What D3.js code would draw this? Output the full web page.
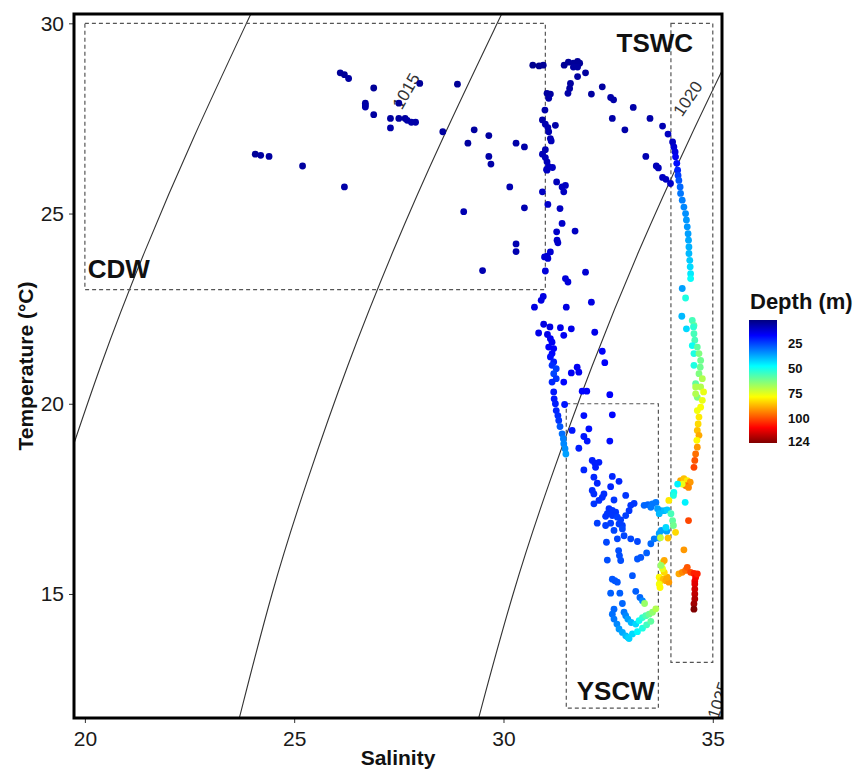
<!DOCTYPE html>
<html>
<head>
<meta charset="utf-8">
<title>T-S diagram</title>
<script src="https://d3js.org/d3.v7.min.js"></script>
<style>
  * { margin: 0; padding: 0; }
  body { background: #fff; }
  svg { display: block; font-family: "Liberation Sans", Arial, sans-serif; }
</style>
</head>
<body>
<div id="chart"></div>
<script>
// --- data: [salinity, temperature (degC), depth (m)] ---
const cdwScatter = [
  [26.1,28.7,3],[26.2,28.65,3],[26.3,28.55,4],[26.9,28.3,3],[26.7,27.9,4],[26.7,27.85,5],[26.7,27.8,5],
  [26.9,27.6,4],[27.3,27.5,4],[27.3,27.25,5],[27.5,27.9,3],[27.5,27.5,4],[27.65,27.5,4],[27.7,27.45,5],
  [27.8,27.4,5],[27.9,27.4,5],[24.07,26.56,3],[24.2,26.53,4],[24.4,26.5,4],[25.2,26.25,4],[26.2,25.7,5],
  [28.0,28.42,3],[28.9,28.4,3],[28.55,27.15,4],[29.3,27.2,4],[29.15,26.85,4],[29.65,27.05,4],[29.65,26.5,5],
  [29.7,26.3,5],[30.3,26.85,5],[30.5,26.75,5],[30.15,25.7,6],[29.05,25.05,6],[30.5,25.15,6],[30.3,24.2,6],
  [30.3,24.0,6],[29.5,23.5,6]
];
const frontColumn = [
  [30.7,28.9,2],[30.85,28.88,2],[30.95,28.9,3],[31.04,28.16,4],[31.12,28.14,4],[31.08,28.03,5],[30.99,27.72,5],
  [30.93,27.46,5],[31.0,27.35,6],[31.06,27.26,6],[31.24,27.32,5],[31.08,27.15,6],[31.12,26.97,6],[31.14,26.91,7],
  [31.0,26.68,6],[30.93,26.56,7],[31.0,26.47,7],[31.04,26.36,7],[31.08,26.23,8],[31.03,26.16,8],[31.17,26.21,8],
  [31.04,26.14,8],[31.27,25.83,7],[31.4,25.7,8],[31.48,25.74,8],[31.44,25.57,8],[30.93,25.57,8],[31.06,25.24,9],
  [31.35,25.13,8],[31.4,24.74,9],[31.27,24.52,9],[31.28,24.3,9],[31.3,24.23,9],[31.71,24.54,8],[31.12,23.99,10],
  [31.04,23.88,10],[30.98,23.86,10],[31.06,23.82,10],[31.0,23.49,11],[31.96,23.46,10],[31.48,23.29,11],
  [31.54,23.2,11],[30.95,22.82,12],[30.9,22.72,12],[30.74,22.54,12],[31.5,22.54,12],[32.1,22.67,12]
];
const midColumn = [
  [30.96,22.09,12],[31.11,22.02,12],[31.36,22.0,13],[31.62,21.97,13],[30.84,21.86,13],[31.05,21.82,13],
  [31.44,21.8,14],[32.18,21.88,13],[31.12,21.71,14],[31.16,21.62,14],[31.08,21.49,15],[31.2,21.45,15],
  [31.16,21.32,16],[31.12,21.23,17],[31.2,21.1,19],[31.16,21.01,21],[31.26,20.92,23],[31.2,20.79,24],
  [31.26,20.66,22],[31.16,20.57,20],[31.2,20.31,18],[31.21,20.13,18],[31.24,20.0,19],[31.26,19.82,20],
  [31.3,19.69,21],[31.32,19.56,22],[31.35,19.4,26],[31.4,19.21,29],[31.43,19.08,31],[31.44,18.95,32],
  [31.47,18.82,33],[31.49,18.68,35]
];
const yscwScatter = [
  [32.36,21.38,15],[32.42,21.08,15],[31.76,20.96,14],[31.8,20.83,14],[31.62,20.81,14],[31.44,20.57,16],
  [31.88,20.33,16],[31.99,20.33,16],[32.54,20.24,15],[31.46,19.98,18],[32.6,19.71,16],[31.92,19.69,17],
  [32.04,19.34,17],[31.64,19.3,18],[31.92,19.14,18],[32.0,19.02,18],[32.54,19.02,17],[31.8,18.83,19],
  [32.12,18.51,19],[32.18,18.44,19],[32.28,18.46,19],[32.2,18.33,19],[31.92,18.26,20],[32.16,18.07,20],
  [32.6,18.09,20],[32.76,17.96,20],[32.24,17.91,20],[32.56,17.82,20],[32.12,17.72,21],[32.16,17.63,21],
  [32.4,17.63,21],[32.36,17.54,21],[32.92,17.59,22],[32.28,17.46,21],[32.16,17.37,22],[32.64,17.47,22],
  [32.52,17.24,21],[32.6,17.2,22],[32.68,17.15,22],[32.48,17.11,22],[32.44,17.04,22],[32.6,17.06,22],
  [32.72,17.02,23],[32.8,16.95,23],[32.56,16.86,23],[32.76,16.84,23],[32.84,16.8,23],[33.04,17.33,22],
  [33.12,17.38,22],[33.0,17.19,22],[32.92,17.06,23],[32.24,16.86,23],[32.44,16.8,23],[32.64,16.67,24],
  [32.84,16.71,24],[32.88,16.53,24],[32.72,16.45,24],[33.04,16.45,24],[33.2,16.38,24],[32.46,16.36,24],
  [33.52,16.32,28],[32.75,16.14,25],[32.77,16.01,25],[32.8,15.88,25],[32.48,15.89,25],[33.2,15.92,26],
  [33.28,15.96,26],[33.42,16.08,27],[33.08,15.48,26],[32.6,15.39,26],[32.66,15.35,26],[32.72,15.31,26],
  [32.56,15.02,27],[32.78,15.02,27],[33.16,15.07,27],[33.26,14.91,28],[33.32,14.82,32],[32.84,14.75,28]
];
const yscwIntrusion = [
  [33.36,17.33,28],[33.45,17.35,28],[33.56,17.37,30],[33.64,17.41,30],[33.52,17.28,30],[33.68,17.24,35],
  [33.76,17.19,35],[33.72,17.11,38],[33.84,17.19,38],[33.91,17.21,40],[33.6,16.45,30],[33.72,16.47,32],
  [33.72,16.59,35],[33.77,16.67,35],[33.9,16.65,35],[33.88,16.75,42],[33.75,16.48,70]
];
const yscwLoop = [
  [32.64,14.6,28],[32.6,14.47,29],[32.64,14.34,30],[32.71,14.21,32],[32.76,14.08,34],[32.84,13.99,36],
  [32.92,13.9,38],[32.97,13.86,40],[33.0,13.83,41],[32.88,14.52,30],[32.92,14.43,32],[32.97,14.34,35],
  [33.05,14.25,38],[33.16,14.21,42],[33.24,14.3,48],[33.32,14.38,52],[33.4,14.43,56],[33.48,14.47,60],
  [33.56,14.52,64],[33.64,14.61,68],[33.08,13.95,42],[33.2,14.01,46],[33.32,14.1,50],[33.42,14.19,54],
  [33.52,14.28,58],[33.37,14.75,65]
];
const tswcUpper = [
  [31.45,28.9,3],[31.55,28.98,3],[31.67,28.95,3],[31.77,29.0,3],[31.82,28.95,3],[31.67,28.85,4],[31.77,28.85,4],
  [31.77,28.6,4],[31.96,28.7,4],[31.6,28.42,4],[31.58,28.29,4],[31.54,28.16,5],[32.1,28.14,4],[32.36,28.33,4],
  [32.56,28.05,5],[32.63,27.99,5],[33.1,27.79,5],[32.6,27.5,5],[33.5,27.5,5],[32.9,27.2,5],[33.8,27.3,6],
  [33.93,27.09,8],[33.4,26.5,6],[33.65,26.25,7],[33.7,26.2,7],[33.8,25.95,8],[33.88,25.9,8],[33.99,25.79,9],
  [34.04,26.88,8],[34.07,26.75,10],[34.1,26.62,12],[34.11,26.49,14],[34.14,26.32,17],[34.16,26.14,20],
  [34.17,26.0,23],[34.19,25.87,26],[34.22,25.7,28],[34.23,25.53,30],[34.27,25.35,31],[34.31,25.17,32],
  [34.35,25.0,33],[34.37,24.83,34],[34.39,24.65,34],[34.41,24.47,35],[34.42,24.3,36],[34.43,24.12,37],
  [34.43,23.95,38],[34.45,23.77,40],[34.46,23.6,42],[34.47,23.42,44],[34.47,23.29,47]
];
const tswcMid = [
  [34.27,23.03,35],[34.35,22.78,50],[34.26,22.3,38],[34.37,21.97,42],[34.51,22.19,55],[34.55,22.06,58],
  [34.54,22.02,52],[34.55,21.84,55],[34.57,21.67,55],[34.51,21.53,48],[34.63,21.49,58],[34.55,21.32,50],
  [34.67,21.32,62],[34.71,21.14,60],[34.55,21.01,50],[34.7,20.96,60],[34.67,20.79,62],[34.75,20.66,68],
  [34.59,20.53,58],[34.71,20.44,68],[34.78,20.31,75],[34.63,20.17,62],[34.75,20.09,75],[34.71,19.91,77],
  [34.63,19.82,76],[34.67,19.65,80],[34.65,19.47,82],[34.63,19.3,85],[34.67,19.17,88],[34.62,19.04,78],
  [34.63,18.86,90],[34.59,18.68,95],[34.57,18.51,98],[34.55,18.33,100],[34.59,20.44,68],[34.59,20.26,68]
];
const tswcDeep = [
  [34.23,17.98,88],[34.31,18.03,85],[34.39,17.98,80],[34.46,17.94,90],[34.35,17.85,95],[34.42,17.8,92],
  [34.27,17.89,75],[34.16,17.89,45],[34.07,17.67,48],[34.06,17.59,50],[33.95,17.46,80],[34.0,17.11,55],
  [34.04,16.93,58],[34.06,16.8,60],[33.93,16.47,85],[34.11,16.62,82],[34.34,17.41,45],[34.42,16.93,100],
  [34.31,16.16,90],[33.72,15.44,78],[33.76,15.35,80],[33.82,15.39,85],[33.88,15.35,88],[33.95,15.31,90],
  [33.91,15.44,88],[33.84,15.57,82],[33.8,15.66,75],[33.72,15.26,76],[33.74,15.17,78],[33.8,15.83,70],
  [33.84,15.88,88],[33.76,15.75,65],[34.19,15.53,88],[34.27,15.57,92],[34.35,15.62,95],[34.39,15.7,98],
  [34.47,15.57,100],[34.55,15.54,105],[34.59,15.43,108],[34.57,15.34,110],[34.63,15.53,105],
  [34.57,15.26,112],[34.57,15.13,114],[34.57,15.0,116],[34.57,14.87,118],[34.55,14.74,120],[34.55,14.6,124]
];

// isopycnals [salinity, temperature]
const iso1015 = [[19.15,17],[19.45,18],[20.38,21],[21.43,24],[22.6,27],[23.86,30],[24.03,30.4]];
const iso1020 = [[23.63,11.5],[23.75,12],[24.47,15],[25.32,18],[26.28,21],[27.36,24],[28.56,27],[29.85,30],[30.02,30.4]];
const iso1025 = [[29.35,11.5],[29.47,12],[30.23,15],[31.12,18],[32.12,21],[33.23,24],[34.46,27],[35.77,30]];
const isoLabels = [
  { text: "1015", s: 27.7, t: 28.2, angle: -60 },
  { text: "1020", s: 34.43, t: 28.0, angle: -56 },
  { text: "1025", s: 35.17, t: 12.2, angle: -72 }
];

// water mass boxes [sMin, sMax, tMin, tMax]
const waterMasses = [
  { name: "CDW",  box: [20, 31, 23, 30],     label: [20.07, 23.3] },
  { name: "TSWC", box: [34, 35, 13.2, 30],   label: [32.7, 29.24] },
  { name: "YSCW", box: [31.5, 33.7, 12, 20], label: [31.75, 12.2] }
];

const xTicks = [20, 25, 30, 35];
const yTicks = [15, 20, 25, 30];
const depthTicks = [25, 50, 75, 100, 124];

// --- layout ---
const W = 858, H = 771;
const plot = { left: 74, right: 722, top: 14, bottom: 718 };

const svg = d3.select("#chart").append("svg")
  .attr("width", W).attr("height", H);

const x = d3.scaleLinear().domain([19.74, 35.22]).range([plot.left, plot.right]);
const y = d3.scaleLinear().domain([11.74, 30.245]).range([plot.bottom, plot.top]);

// jet palette
const jetStops = [0, 0.125, 0.375, 0.625, 0.875, 1];
const jetColors = ["#00007f", "#0000ff", "#00ffff", "#ffff00", "#ff0000", "#7f0000"];
const color = d3.scaleLinear().domain(jetStops.map(t => t * 124)).range(jetColors).clamp(true);

svg.append("defs").append("clipPath").attr("id", "panel")
  .append("rect")
  .attr("x", plot.left).attr("y", plot.top)
  .attr("width", plot.right - plot.left).attr("height", plot.bottom - plot.top);

const inner = svg.append("g").attr("clip-path", "url(#panel)");

// isopycnal lines
const line = d3.line().x(d => x(d[0])).y(d => y(d[1])).curve(d3.curveNatural);
inner.selectAll("path.iso")
  .data([iso1015, iso1020, iso1025])
  .join("path")
  .attr("class", "iso")
  .attr("d", line)
  .attr("fill", "none")
  .attr("stroke", "#333")
  .attr("stroke-width", 1.1);

inner.selectAll("text.iso-label")
  .data(isoLabels)
  .join("text")
  .attr("class", "iso-label")
  .attr("transform", d => `translate(${x(d.s)},${y(d.t)}) rotate(${d.angle})`)
  .attr("text-anchor", "middle")
  .attr("dominant-baseline", "middle")
  .attr("font-size", 17)
  .attr("fill", "#333")
  .text(d => d.text);

// water mass boxes
inner.selectAll("rect.wm")
  .data(waterMasses)
  .join("rect")
  .attr("class", "wm")
  .attr("x", d => x(d.box[0]))
  .attr("y", d => y(d.box[3]))
  .attr("width", d => x(d.box[1]) - x(d.box[0]))
  .attr("height", d => y(d.box[2]) - y(d.box[3]))
  .attr("fill", "none")
  .attr("stroke", "#555")
  .attr("stroke-width", 1.2)
  .attr("stroke-dasharray", "4,3");

// points
const allPoints = [].concat(cdwScatter, frontColumn, midColumn, yscwScatter, yscwIntrusion,
  yscwLoop, tswcUpper, tswcMid, tswcDeep);
svg.append("g").selectAll("circle")
  .data(allPoints)
  .join("circle")
  .attr("cx", d => x(d[0]))
  .attr("cy", d => y(d[1]))
  .attr("r", 3.4)
  .attr("fill", d => color(d[2]));

svg.append("g").selectAll("text.wm-label")
  .data(waterMasses)
  .join("text")
  .attr("class", "wm-label")
  .attr("x", d => x(d.label[0]))
  .attr("y", d => y(d.label[1]))
  .attr("font-size", 26)
  .attr("font-weight", "bold")
  .attr("fill", "#111")
  .text(d => d.name);

// axes
const xAxis = svg.append("g")
  .attr("transform", `translate(0,${plot.bottom})`)
  .call(d3.axisBottom(x).tickValues(xTicks).tickSize(5).tickPadding(8));
const yAxis = svg.append("g")
  .attr("transform", `translate(${plot.left},0)`)
  .call(d3.axisLeft(y).tickValues(yTicks).tickSize(5).tickPadding(5));
[xAxis, yAxis].forEach(g => {
  g.select(".domain").remove();
  g.selectAll(".tick line").attr("stroke", "#333");
  g.selectAll(".tick text")
    .attr("font-size", 21)
    .attr("font-family", "'Liberation Sans', Arial, sans-serif")
    .attr("fill", "#1a1a1a");
});

// panel border
svg.append("rect")
  .attr("x", plot.left).attr("y", plot.top)
  .attr("width", plot.right - plot.left).attr("height", plot.bottom - plot.top)
  .attr("fill", "none")
  .attr("stroke", "#000")
  .attr("stroke-width", 3);

// axis titles
svg.append("text")
  .attr("x", (plot.left + plot.right) / 2)
  .attr("y", 765)
  .attr("text-anchor", "middle")
  .attr("font-size", 21)
  .attr("font-weight", "bold")
  .attr("fill", "#111")
  .text("Salinity");

svg.append("text")
  .attr("transform", `translate(33,${(plot.top + plot.bottom) / 2}) rotate(-90)`)
  .attr("text-anchor", "middle")
  .attr("font-size", 21)
  .attr("font-weight", "bold")
  .attr("fill", "#111")
  .text("Temperature (°C)");

// colour bar legend
const bar = { x: 749, y: 320, w: 28, h: 123 };
const grad = svg.select("defs").append("linearGradient")
  .attr("id", "jet").attr("x1", 0).attr("y1", 0).attr("x2", 0).attr("y2", 1);
grad.selectAll("stop")
  .data(jetStops)
  .join("stop")
  .attr("offset", d => d)
  .attr("stop-color", (d, i) => jetColors[i]);

svg.append("rect")
  .attr("x", bar.x).attr("y", bar.y)
  .attr("width", bar.w).attr("height", bar.h)
  .attr("fill", "url(#jet)");

const depthY = d3.scaleLinear().domain([0, 124]).range([bar.y, bar.y + bar.h]);
svg.append("g").selectAll("text")
  .data(depthTicks)
  .join("text")
  .attr("x", 788)
  .attr("y", d => depthY(d))
  .attr("dominant-baseline", "middle")
  .attr("font-size", 13)
  .attr("font-weight", "bold")
  .attr("fill", "#111")
  .text(d => d);

svg.append("text")
  .attr("x", 750)
  .attr("y", 309)
  .attr("font-size", 22)
  .attr("font-weight", "bold")
  .attr("fill", "#111")
  .text("Depth (m)");
</script>
</body>
</html>
